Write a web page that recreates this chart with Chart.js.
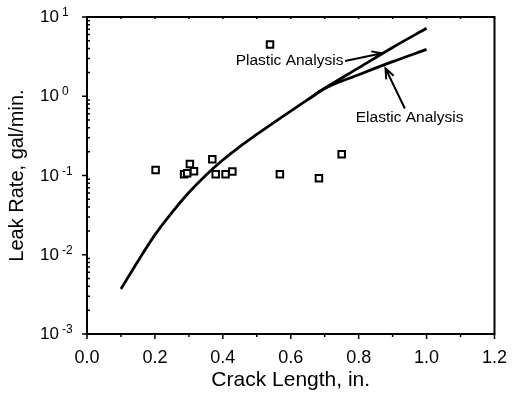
<!DOCTYPE html>
<html>
<head>
<meta charset="utf-8">
<script src="https://cdn.jsdelivr.net/npm/chart.js@4.4.0/dist/chart.umd.min.js"></script>
<style>
  html, body { margin: 0; padding: 0; background: #fff; }
  #wrap { width: 520px; height: 399px; }
</style>
</head>
<body>
<div id="wrap"><canvas id="leakChart"></canvas></div>
<script>
// ============================
// DATA: crack length (in.) vs leak rate (gal/min.)
// ============================
const curveX   = [0.10, 0.15, 0.20, 0.25, 0.30, 0.35, 0.40, 0.45, 0.50, 0.55, 0.60, 0.65, 0.70, 0.80, 0.90, 1.00];
const plasticY = [0.0037, 0.0083, 0.0178, 0.034, 0.061, 0.101, 0.157, 0.232, 0.33, 0.465, 0.65, 0.905, 1.26, 2.28, 4.13, 7.2];
const elasticX = [0.65, 0.70, 0.80, 0.90, 1.00];
const elasticY = [0.905, 1.25, 1.87, 2.73, 3.9];

// measured points (open squares)
const testX = [0.202, 0.286, 0.295, 0.303, 0.315, 0.369, 0.379, 0.408, 0.428, 0.539, 0.568, 0.683, 0.750];
const testY = [0.117, 0.104, 0.107, 0.140, 0.113, 0.160, 0.104, 0.104, 0.112, 4.5, 0.104, 0.092, 0.185];

const xTicks = [0, 0.2, 0.4, 0.6, 0.8, 1.0, 1.2];
const yExponents = [-3, -2, -1, 0, 1];

const INK = "#000";
const FONT = "'Liberation Sans', Arial, Helvetica, sans-serif";

const toPoints = (xs, ys) => xs.map((x, i) => ({ x: x, y: ys[i] }));

// ============================
// FRAME, TICK MARKS, LOG LABELS, ARROWS
// ============================
function arrow(ctx, x1, y1, x2, y2) {
  const a = Math.atan2(y2 - y1, x2 - x1);
  ctx.beginPath();
  ctx.moveTo(x1, y1);
  ctx.lineTo(x2, y2);
  ctx.moveTo(x2 - 11 * Math.cos(a - 0.38), y2 - 11 * Math.sin(a - 0.38));
  ctx.lineTo(x2, y2);
  ctx.lineTo(x2 - 11 * Math.cos(a + 0.38), y2 - 11 * Math.sin(a + 0.38));
  ctx.stroke();
}

const paperPlugin = {
  id: "paper",
  afterDraw(chart) {
    const { ctx, chartArea: a, scales } = chart;
    const sx = scales.x, sy = scales.y;
    ctx.save();
    ctx.strokeStyle = INK;
    ctx.fillStyle = INK;

    // frame
    ctx.lineWidth = 2;
    ctx.strokeRect(a.left, a.top, a.right - a.left, a.bottom - a.top);

    // x ticks
    ctx.lineWidth = 1.5;
    ctx.beginPath();
    for (let i = 0; i <= 12; i++) {
      const px = sx.getPixelForValue(i / 10);
      const len = i % 2 === 0 ? 5 : 3;
      ctx.moveTo(px, a.bottom);
      ctx.lineTo(px, a.bottom + len);
      ctx.moveTo(px, a.top);
      ctx.lineTo(px, a.top + 2);
    }
    // y ticks (decades outward, minors inward)
    yExponents.forEach(e => {
      const py = sy.getPixelForValue(Math.pow(10, e));
      ctx.moveTo(a.left - 5, py);
      ctx.lineTo(a.left, py);
      if (e < 1) {
        for (let m = 2; m <= 9; m++) {
          const pm = sy.getPixelForValue(m * Math.pow(10, e));
          ctx.moveTo(a.left, pm);
          ctx.lineTo(a.left + 3, pm);
        }
      }
    });
    ctx.stroke();

    // y labels 10^n
    yExponents.forEach(e => {
      const py = sy.getPixelForValue(Math.pow(10, e));
      ctx.font = "17px " + FONT;
      ctx.textAlign = "right";
      ctx.textBaseline = "alphabetic";
      ctx.fillText("10", a.left - 28, py + 5);
      ctx.font = "12px " + FONT;
      ctx.textAlign = "left";
      ctx.fillText(String(e), a.left - 25, py - 1);
    });

    // annotations
    ctx.font = "15.5px " + FONT;
    ctx.textBaseline = "middle";
    ctx.textAlign = "right";
    ctx.fillText("Plastic Analysis", sx.getPixelForValue(0.755), sy.getPixelForValue(2.79));
    ctx.textAlign = "center";
    ctx.fillText("Elastic Analysis", sx.getPixelForValue(0.95), sy.getPixelForValue(0.53));

    ctx.lineWidth = 2;
    arrow(ctx, sx.getPixelForValue(0.76), sy.getPixelForValue(2.79),
               sx.getPixelForValue(0.869), sy.getPixelForValue(3.48));
    arrow(ctx, sx.getPixelForValue(0.936), sy.getPixelForValue(0.70),
               sx.getPixelForValue(0.879), sy.getPixelForValue(2.25));
    ctx.restore();
  }
};

// ============================
// INIT CHART
// ============================
const ctx = document.getElementById("leakChart").getContext("2d");

const chart = new Chart(ctx, {
  type: "scatter",
  data: {
    datasets: [
      {
        label: "Plastic Analysis",
        data: toPoints(curveX, plasticY),
        showLine: true,
        borderColor: INK,
        borderWidth: 2.8,
        pointRadius: 0,
        cubicInterpolationMode: "monotone"
      },
      {
        label: "Elastic Analysis",
        data: toPoints(elasticX, elasticY),
        showLine: true,
        borderColor: INK,
        borderWidth: 2.8,
        pointRadius: 0,
        cubicInterpolationMode: "monotone"
      },
      {
        label: "Test data",
        data: toPoints(testX, testY),
        showLine: false,
        pointStyle: "rect",
        pointRadius: 4.6,
        pointBorderWidth: 2,
        pointBorderColor: INK,
        pointBackgroundColor: "#fff"
      }
    ]
  },
  options: {
    responsive: true,
    maintainAspectRatio: false,
    animation: false,
    layout: { padding: { top: 17, right: 14, left: 0, bottom: 0 } },
    plugins: {
      legend: { display: false },
      tooltip: { enabled: false }
    },
    scales: {
      x: {
        type: "linear",
        min: 0,
        max: 1.2,
        afterBuildTicks: s => { s.ticks = xTicks.map(v => ({ value: v })); },
        afterFit: s => { s.height = 65; },
        grid: { display: false, drawTicks: false },
        border: { display: false },
        ticks: {
          color: INK,
          padding: 13,
          maxRotation: 0,
          font: { family: FONT, size: 18 },
          callback: v => Number(v).toFixed(1)
        },
        title: {
          display: true,
          text: "Crack Length, in.",
          color: INK,
          font: { family: FONT, size: 21 },
          padding: { top: 0, bottom: 6 }
        }
      },
      y: {
        type: "logarithmic",
        min: 0.001,
        max: 10,
        afterFit: s => { s.width = 87; },
        grid: { display: false, drawTicks: false },
        border: { display: false },
        ticks: { display: false },
        title: {
          display: true,
          text: "Leak Rate, gal/min.",
          color: INK,
          font: { family: FONT, size: 20 },
          padding: { top: 5, bottom: 0 }
        }
      }
    }
  },
  plugins: [paperPlugin]
});
</script>
</body>
</html>
